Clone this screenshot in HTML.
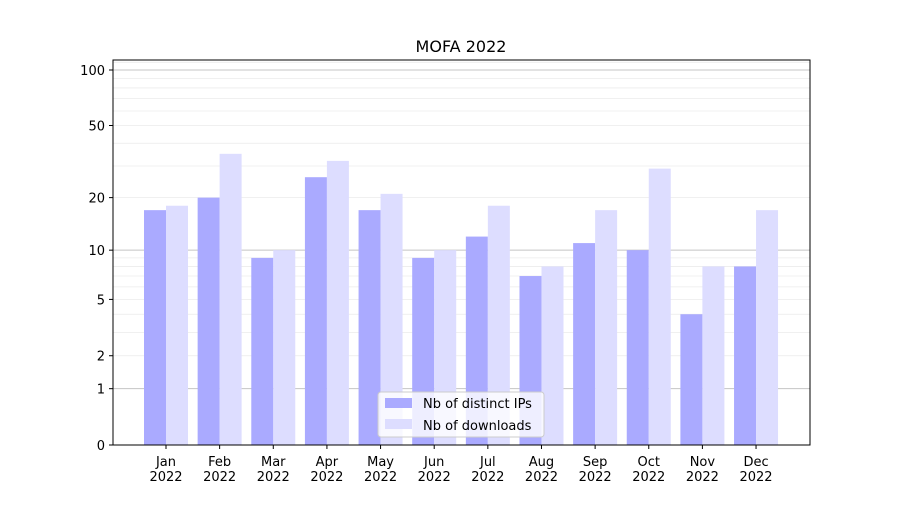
<!DOCTYPE html>
<html><head><meta charset="utf-8"><style>
body{margin:0;background:#fff;font-family:"Liberation Sans","DejaVu Sans",sans-serif}
</style></head><body>
<svg id="chart" width="900" height="500" xmlns="http://www.w3.org/2000/svg" font-family="DejaVu Sans, Liberation Sans, sans-serif">
<rect width="900" height="500" fill="#fff"/>
<text x="461" y="52" font-size="16" text-anchor="middle">MOFA 2022</text>
<g id="grid"></g><g id="bars"></g><g id="axes"></g>
<g>
<rect x="378" y="392" width="166" height="45" rx="3" fill="#fff" fill-opacity="0.8" stroke="#ccc"/>
<rect x="385" y="398" width="27" height="10" fill="#aaaaff"/>
<text x="423" y="408" font-size="13">Nb of distinct IPs</text>
<rect x="385" y="419" width="27" height="10" fill="#ddddff"/>
<text x="423" y="430" font-size="13">Nb of downloads</text>
</g>
</svg>
<script>
const months=["Jan","Feb","Mar","Apr","May","Jun","Jul","Aug","Sep","Oct","Nov","Dec"];
const ips=[17,20,9,26,17,9,12,7,11,10,4,8];
const downloads=[18,35,10,32,21,10,18,8,17,29,8,17];
const yTicks=[0,1,2,5,10,20,50,100];
const NS="http://www.w3.org/2000/svg";
const L=113,R=810,T=60,B=445;
const y=v=>B-187.1*Math.log10(1+v);
const x=i=>166+i*53.64;
function mk(tag,attrs,parent){const e=document.createElementNS(NS,tag);for(const k in attrs)e.setAttribute(k,attrs[k]);parent.appendChild(e);return e;}
const grid=document.getElementById('grid'),bars=document.getElementById('bars'),axes=document.getElementById('axes');
[2,3,4,5,6,7,8,9,20,30,40,50,60,70,80,90,110].forEach(v=>{const l=mk('line',{x1:L,x2:R,y1:y(v),y2:y(v),stroke:'#ebebeb','stroke-width':0.8},grid);

});
[1,10,100].forEach(v=>{const l=mk('line',{x1:L,x2:R,y1:y(v),y2:y(v),stroke:'#c4c4c4','stroke-width':1},grid);

});
months.forEach((m,i)=>{
const a=mk('rect',{x:x(i)-22,y:y(ips[i]),width:22,height:B-y(ips[i]),fill:'#aaaaff'},bars);


const b=mk('rect',{x:x(i),y:y(downloads[i]),width:22,height:B-y(downloads[i]),fill:'#ddddff'},bars);


mk('line',{x1:x(i),x2:x(i),y1:B,y2:B+4,stroke:'#000'},axes);
const t=mk('text',{x:x(i),y:B+21,'font-size':13,'text-anchor':'middle'},axes);


t.textContent=m;
const t2=mk('text',{x:x(i),y:B+36,'font-size':13,'text-anchor':'middle'},axes);


t2.textContent='2022';
});
yTicks.forEach(v=>{mk('line',{x1:L-4,x2:L,y1:y(v),y2:y(v),stroke:'#000'},axes);
const t=mk('text',{x:L-8,y:y(v)+5,'font-size':13,'text-anchor':'end'},axes);


t.textContent=v;});
const f=mk('rect',{x:L,y:T,width:R-L,height:B-T,fill:'none',stroke:'#000','stroke-width':1},axes);


</script>
</body></html>
